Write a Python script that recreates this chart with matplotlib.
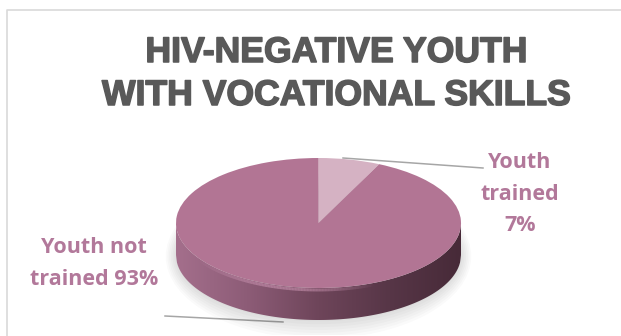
import matplotlib
matplotlib.use('Agg')
import matplotlib.pyplot as plt
import matplotlib.patches as mpatches
import matplotlib.patheffects as pe
from matplotlib.collections import LineCollection
from matplotlib.colors import LinearSegmentedColormap, to_rgb
import numpy as np

# data
categories = ['Youth trained', 'Youth not trained']
shares = [7, 93]
slice_colors = ['#D5B2C3', '#B27594']
title_lines = ['HIV-NEGATIVE YOUTH', 'WITH VOCATIONAL SKILLS']

TITLE_C = '#595959'
LABEL_C = '#B2789A'
LINE_C = '#A6A6A6'
BORDER_C = '#D9D9D9'

fig = plt.figure(figsize=(6.21, 3.36), dpi=100)
fig.patch.set_facecolor('white')

# pixel-space overlay axes
ax = fig.add_axes([0, 0, 1, 1])
ax.set_xlim(0, 621)
ax.set_ylim(336, 0)
ax.axis('off')

# chart-area border (only top and left visible)
ax.plot([6.5, 6.5, 621], [336, 10, 10], color=BORDER_C, lw=1.2, zorder=1)

# title
for txt, yb in zip(title_lines, [62, 105]):
    ax.text(336, yb, txt, ha='center', va='baseline', fontsize=25.6,
            fontweight='bold', family='Liberation Sans', color=TITLE_C,
            path_effects=[pe.withStroke(linewidth=1.1, foreground=TITLE_C)])

# pie geometry (pixels)
cx0, cx1 = 176, 461        # left/right edge of top face
cy_top, cy_front = 158, 288  # top/front edge of top face
ry_px = (cy_front - cy_top) / 2
rx_px = (cx1 - cx0) / 2
thick = 32 / ry_px         # side thickness in data units

pad_x = 25
px_left, px_right = cx0 - pad_x, cx1 + pad_x
py_top, py_bot = cy_top - 5, 335
pax = fig.add_axes([px_left / 621, (336 - py_bot) / 336,
                    (px_right - px_left) / 621, (py_bot - py_top) / 336])

# soft shadow
for i in range(7):
    e = mpatches.Ellipse((0, -thick - 0.02), 2 * (1.0 + 0.012 * i),
                         2 * (1.0 + 0.045 * i), facecolor='black',
                         edgecolor='none', alpha=0.02, zorder=0)
    pax.add_patch(e)

# side of the disc with horizontal gradient
xs = np.linspace(-1, 1, 300)
top_curve = -np.sqrt(np.clip(1 - xs ** 2, 0, None))
verts = np.concatenate([np.column_stack([xs, top_curve]),
                        np.column_stack([xs[::-1], top_curve[::-1] - thick])])
side = mpatches.Polygon(verts, closed=True, facecolor='none',
                        edgecolor='none')
pax.add_patch(side)
cmap = LinearSegmentedColormap.from_list('side', [
    (0.0, '#A46F8C'), (0.25, '#8D5C77'), (0.5, '#6E455A'),
    (0.75, '#573647'), (1.0, '#472A38')])
grad = np.linspace(0, 1, 256)[None, :]
im = pax.imshow(grad, cmap=cmap, extent=(-1, 1, -1 - thick, 0),
                aspect='auto', zorder=1, interpolation='bilinear')
im.set_clip_path(side)

# top face
wedges, _ = pax.pie(shares, colors=slice_colors, startangle=90,
                    counterclock=False, radius=1,
                    wedgeprops=dict(linewidth=0, zorder=2))

# soft rim highlight along the front edge (fades at both ends)
hx = np.linspace(-0.85, 0.4, 120)
hy = -np.sqrt(1 - hx ** 2) - 0.03
pts = np.column_stack([hx, hy]).reshape(-1, 1, 2)
segs = np.concatenate([pts[:-1], pts[1:]], axis=1)
fade = np.sin(np.linspace(0, np.pi, len(segs))) * 0.5
rgb = to_rgb('#DDA4C3')
lc = LineCollection(segs, colors=[(*rgb, a) for a in fade], linewidths=2.2,
                    zorder=3)
pax.add_collection(lc)

pax.set_aspect('auto')
pax.set_xlim(-1 - pad_x / rx_px, 1 + pad_x / rx_px)
pax.set_ylim(1 - (py_bot - cy_top) / ry_px, 1 + 5 / ry_px)
pax.axis('off')

# leader lines
ax.plot([343, 483], [158, 168], color=LINE_C, lw=1.1, zorder=5)
ax.plot([165, 283], [316, 322], color=LINE_C, lw=1.1, zorder=5)

# data labels
right_lines = ['Youth', 'trained', f'{shares[0]}%']
for txt, yb in zip(right_lines, [168, 200, 231]):
    ax.text(520, yb, txt, ha='center', va='baseline', fontsize=15.5,
            fontweight='bold', family='Open Sans', color=LABEL_C)
left_lines = ['Youth not', f'trained {shares[1]}%']
for txt, yb in zip(left_lines, [253, 285]):
    ax.text(94, yb, txt, ha='center', va='baseline', fontsize=15.5,
            fontweight='bold', family='Open Sans', color=LABEL_C)

plt.savefig('out.png', dpi=100, facecolor='white')
plt.close()
